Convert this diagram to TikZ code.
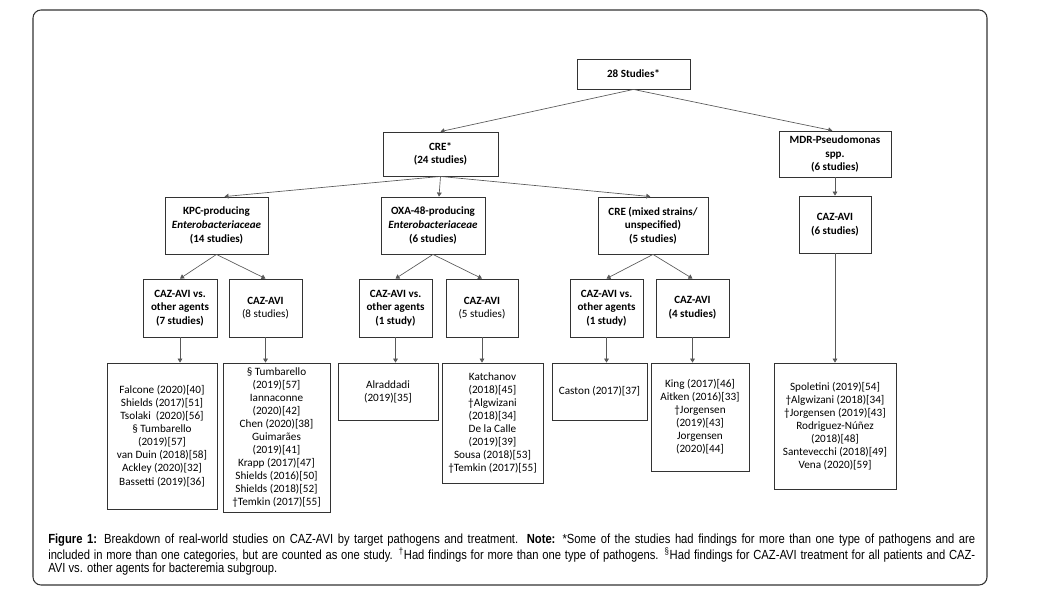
\documentclass[tikz,border=0pt]{standalone}
\usepackage{fontspec}
\setmainfont{Carlito}
\newfontfamily\capfont[FakeStretch=0.85]{Liberation Sans}
\usetikzlibrary{arrows.meta,calc}
\tikzset{
  hb/.style 2 args={draw=black!80, line width=0.65pt, rectangle, inner sep=0pt, align=center,
    font=\fontsize{8.3}{10.2}\selectfont\bfseries,
    minimum width=#1*0.75pt, minimum height=#2*0.75pt},
  lb/.style 2 args={draw=black!80, line width=0.65pt, rectangle, inner sep=0pt, align=center,
    font=\fontsize{8.4}{9.8}\selectfont,
    minimum width=#1*0.75pt, minimum height=#2*0.75pt},
  conn/.style={draw=black!65, line width=0.5pt, -{Triangle[length=3pt,width=3.6pt]}},
  frame/.style={draw=black!80, line width=0.8pt, rounded corners=6pt},
}
\begin{document}
\begin{tikzpicture}[x=0.75pt,y=-0.75pt]
\useasboundingbox (0,0) rectangle (1039,592);
\draw[frame] (33,10) rectangle (987,585);

% level 0
\node[hb={113}{30}] (top) at (633.5,74) {28 Studies*};
% level 1
\node[hb={115}{44}] (cre) at (440.5,154) {CRE*\\(24 studies)};
\node[hb={112}{46}] (mdr) at (835,154) {MDR-Pseudomonas\\spp.\\(6 studies)};
% level 2
\node[hb={103}{57}] (kpc) at (216.5,225.5) {KPC-producing\\\textit{Enterobacteriaceae}\\(14 studies)};
\node[hb={104}{57}] (oxa) at (433,225.5) {OXA-48-producing\\\textit{Enterobacteriaceae}\\(6 studies)};
\node[hb={110}{57}] (mix) at (653,225.5) {CRE (mixed strains/\\unspecified)\\(5 studies)};
\node[hb={72}{57}] (caz6) at (835,224.5) {CAZ-AVI\\(6 studies)};
% level 3
\node[hb={74}{58}] (v7) at (180,308) {CAZ-AVI vs.\\other agents\\(7 studies)};
\node[hb={73}{58}] (c8) at (265.5,308) {CAZ-AVI\\\mdseries(8 studies)};
\node[hb={73}{58}] (vo) at (395.5,308) {CAZ-AVI vs.\\other agents\\(1 study)};
\node[hb={72}{58}] (c5) at (482,308) {CAZ-AVI\\\mdseries(5 studies)};
\node[hb={73}{58}] (vm) at (606.5,308) {CAZ-AVI vs.\\other agents\\(1 study)};
\node[hb={73}{58}] (c4) at (692.5,308) {CAZ-AVI\\(4 studies)};
% level 4
\node[lb={110}{146}] (falc) at (162,436) {Falcone (2020)[40]\\Shields (2017)[51]\\Tsolaki\ \ (2020)[56]\\§ Tumbarello\\(2019)[57]\\van Duin (2018)[58]\\Ackley (2020)[32]\\Bassetti (2019)[36]};
\node[lb={107}{149}] (tumb) at (276.5,437.5) {§ Tumbarello\\(2019)[57]\\Iannaconne\\(2020)[42]\\Chen (2020)[38]\\Guimarães\\(2019)[41]\\Krapp (2017)[47]\\Shields (2016)[50]\\Shields (2018)[52]\\†Temkin (2017)[55]};
\node[lb={100}{57}] (alr) at (388,391.5) {Alraddadi\\(2019)[35]};
\node[lb={101}{120}] (kat) at (492.5,423) {Katchanov\\(2018)[45]\\†Algwizani\\(2018)[34]\\De la Calle\\(2019)[39]\\Sousa (2018)[53]\\†Temkin (2017)[55]};
\node[lb={95}{57}] (cas) at (599.5,391.5) {Caston (2017)[37]};
\node[lb={98}{108}] (king) at (700,417) {King (2017)[46]\\Aitken (2016)[33]\\†Jorgensen\\(2019)[43]\\Jorgensen\\(2020)[44]};
\node[lb={122}{126}] (spol) at (835,426) {Spoletini (2019)[54]\\†Algwizani (2018)[34]\\†Jorgensen (2019)[43]\\Rodriguez-Núñez\\(2018)[48]\\Santevecchi (2018)[49]\\Vena (2020)[59]};

% connectors
\draw[conn] (top.south) -- (cre.north);
\draw[conn] (top.south) -- ([xshift=-2pt]mdr.north);
\draw[conn] (cre.south) -- ([xshift=6pt]kpc.north);
\draw[conn] (cre.south) -- ([xshift=4.5pt]oxa.north);
\draw[conn] (cre.south) -- ([xshift=-2pt]mix.north);
\draw[conn] (mdr.south) -- (caz6.north);
\draw[conn] (kpc.south) -- (v7.north);
\draw[conn] (kpc.south) -- (c8.north);
\draw[conn] (oxa.south) -- (vo.north);
\draw[conn] (oxa.south) -- (c5.north);
\draw[conn] (mix.south) -- (vm.north);
\draw[conn] (mix.south) -- (c4.north);
\draw[conn] (v7.south) -- (v7.south |- falc.north);
\draw[conn] (c8.south) -- (c8.south |- tumb.north);
\draw[conn] (vo.south) -- (vo.south |- alr.north);
\draw[conn] (c5.south) -- (c5.south |- kat.north);
\draw[conn] (vm.south) -- (vm.south |- cas.north);
\draw[conn] (c4.south) -- (c4.south |- king.north);
\draw[conn] (caz6.south) -- (caz6.south |- spol.north);

% caption
\node[anchor=north west, inner sep=0pt, text width=695.25pt, align=justify,
      font=\capfont\fontsize{9.9}{9.8}\selectfont] (cap) at (48,534)
{\textbf{Figure 1:} Breakdown of real-world studies on CAZ-AVI by target pathogens and treatment. \textbf{Note:} *Some of the studies had findings for more than one type of pathogens and are\linebreak
included in more than one categories, but are counted as one study. \textsuperscript{†}Had findings for more than one type of pathogens. \textsuperscript{§}Had findings for CAZ-AVI treatment for all patients and CAZ-\linebreak
AVI vs. other agents for bacteremia subgroup.};
\end{tikzpicture}
\end{document}
